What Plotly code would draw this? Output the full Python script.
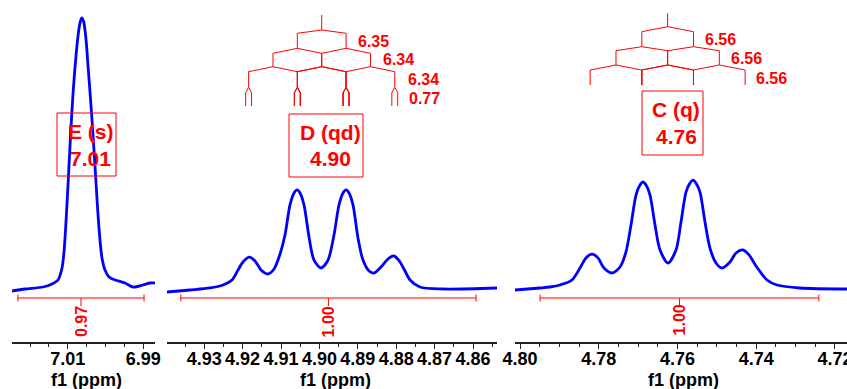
import plotly.graph_objects as go

# ---------------- data ----------------
# Panel E: chemical shift (ppm) and relative intensity
e_ppm = [7.02477, 7.02132, 7.01656, 7.01418, 7.01259, 7.01153, 7.01100, 7.01047, 7.00994,
         7.00941, 7.00888, 7.00835, 7.00782, 7.00729, 7.00676, 7.00631, 7.00584, 7.00544,
         7.00504, 7.00464, 7.00411, 7.00358, 7.00306, 7.00253, 7.00200, 7.00147, 7.00094,
         7.00014, 6.99908, 6.99750, 6.99485, 6.99273, 6.99008, 6.98823, 6.98690]
e_int = [-0.37, 0.37, 1.10, 2.21, 3.68, 8.09, 13.97, 25.0, 38.6,
         52.9, 66.2, 77.2, 86.0, 93.4, 98.2, 100.0, 98.9, 95.6,
         90.1, 82.4, 72.8, 62.5, 51.5, 39.7, 27.9, 18.4, 11.8,
         7.35, 4.78, 3.68, 2.57, 1.10, 1.84, 2.57, 2.57]

# Panel D
d_ppm = [4.93969, 4.93370, 4.92849, 4.92510, 4.92276, 4.92120, 4.91990, 4.91833, 4.91677,
         4.91521, 4.91339, 4.91182, 4.91026, 4.90896, 4.90766, 4.90661, 4.90583, 4.90505,
         4.90401, 4.90271, 4.90141, 4.89958, 4.89776, 4.89620, 4.89490, 4.89385, 4.89307,
         4.89229, 4.89125, 4.88995, 4.88865, 4.88708, 4.88578, 4.88396, 4.88214, 4.88057,
         4.87901, 4.87771, 4.87641, 4.87380, 4.86781, 4.85375]
d_int = [-0.74, 0.0, 0.74, 1.84, 3.68, 7.35, 10.3, 12.1, 10.7,
         7.35, 5.88, 7.72, 13.2, 20.2, 31.3, 35.7, 36.8, 35.7,
         31.3, 19.5, 11.0, 8.09, 11.0, 20.2, 31.3, 35.7, 36.8,
         35.7, 31.3, 19.1, 11.0, 6.99, 6.25, 8.46, 11.4, 12.5,
         10.3, 6.99, 3.68, 1.10, 0.37, 0.74]

# Panel C
c_ppm = [4.80127, 4.79492, 4.79238, 4.78984, 4.78679, 4.78476, 4.78324, 4.78171, 4.78019,
         4.77867, 4.77663, 4.77460, 4.77308, 4.77181, 4.77054, 4.76952, 4.76876, 4.76800,
         4.76698, 4.76571, 4.76444, 4.76241, 4.76038, 4.75911, 4.75784, 4.75683, 4.75606,
         4.75530, 4.75429, 4.75302, 4.75175, 4.75022, 4.74870, 4.74667, 4.74514, 4.74337,
         4.74184, 4.74006, 4.73727, 4.73473, 4.72889, 4.71695]
c_int = [0.0, 0.74, 1.10, 1.84, 3.68, 8.09, 11.8, 13.2, 11.8,
         8.09, 6.25, 8.46, 14.0, 23.9, 34.9, 38.6, 39.7, 38.6,
         34.9, 23.9, 14.7, 9.93, 14.7, 25.0, 36.0, 39.3, 40.4,
         39.3, 36.0, 25.0, 15.4, 9.93, 8.09, 10.3, 13.6, 14.7,
         12.9, 8.82, 3.68, 1.84, 0.74, 0.37]

# Multiplet annotations
mult_names = ["E (s)", "D (qd)", "C (q)"]
mult_shift_labels = ["7.01", "4.90", "4.76"]
mult_centers = [7.0063, 4.8994, 4.7625]          # ppm (tree centres)
integral_values = ["0.97", "1.00", "1.00"]
integral_from = [7.0232, 4.9361, 4.7949]          # ppm
integral_to = [6.9898, 4.8592, 4.7241]            # ppm
d_couplings = [6.35, 6.34, 6.34, 0.77]            # Hz
c_couplings = [6.56, 6.56, 6.56]                  # Hz
spectrometer_mhz = 500.0

# axis ranges / ticks
x_ranges = [(7.02477, 6.98690), (4.93969, 4.85375), (4.80127, 4.71695)]
major_dticks = [0.02, 0.01, 0.02]
major_tick0 = [6.99, 4.86, 4.72]
minor_dtick = 0.005

# ---------------- layout helpers ----------------
W, H = 847, 389
RED = "#ff0000"
BLUE = "#0000ff"
FONT = "Liberation Sans, Arial, sans-serif"


def xp(p):
    return p / W


def yp(p):
    return 1 - p / H


panel_px = [(12, 155), (167, 497), (515, 847)]
axis_px = 342
y_range = [-19.12, 106.62]

fig = go.Figure()
spectra = [(e_ppm, e_int), (d_ppm, d_int), (c_ppm, c_int)]
layout = dict(width=W, height=H, margin=dict(l=0, r=0, t=0, b=0, pad=0), autosize=False,
              paper_bgcolor="white", plot_bgcolor="white", showlegend=False)

for i, (xs, ys) in enumerate(spectra):
    n = "" if i == 0 else str(i + 1)
    fig.add_trace(go.Scatter(x=xs, y=ys, mode="lines",
                             line=dict(color=BLUE, width=2.8, shape="spline", smoothing=0.8),
                             xaxis="x" + n, yaxis="y" + n, hoverinfo="skip"))
    l, r = panel_px[i]
    layout["xaxis" + n] = dict(
        domain=[xp(l), xp(r)], range=list(x_ranges[i]), anchor="y" + n,
        showgrid=False, zeroline=False, showline=True, linecolor="#222222", linewidth=1.5,
        ticks="outside", ticklen=5, tickwidth=1.2, tickcolor="#222222",
        dtick=major_dticks[i], tick0=major_tick0[i], tickformat=".2f", tickangle=0,
        tickfont=dict(family=FONT, size=18, color="black", weight="bold"),
        ticklabelstandoff=-5, ticklabeloverflow="allow", automargin=False,
        minor=dict(dtick=minor_dtick, tick0=0, ticks="outside", ticklen=3.5,
                   tickwidth=1.1, tickcolor="#222222", showgrid=False),
    )
    layout["yaxis" + n] = dict(domain=[yp(axis_px), 1], range=y_range, visible=False,
                               anchor="x" + n, automargin=False)

fig.update_layout(**layout)

shapes = []
annotations = []
line_red = dict(color=RED, width=1)

# axis titles
title_shift = [3, 3, 2]
for i in range(3):
    n = "" if i == 0 else str(i + 1)
    annotations.append(dict(text="<b>f1 (ppm)</b>", xref="x" + n + " domain", x=0.5,
                            xshift=title_shift[i], yref="paper", y=yp(380), showarrow=False,
                            font=dict(family=FONT, size=18, color="black"),
                            xanchor="center", yanchor="middle"))

# integral brackets
br_y, cap, tick_bot = 298, 3.5, 306
lbl_y = [321, 322, 320]
for i in range(3):
    n = "" if i == 0 else str(i + 1)
    xr = "x" + n
    a, b = integral_from[i], integral_to[i]
    mid = (a + b) / 2
    shapes.append(dict(type="line", xref=xr, yref="paper", x0=a, x1=b,
                       y0=yp(br_y), y1=yp(br_y), line=line_red))
    for xx in (a, b):
        shapes.append(dict(type="line", xref=xr, yref="paper", x0=xx, x1=xx,
                           y0=yp(br_y - cap), y1=yp(br_y + cap), line=line_red))
    shapes.append(dict(type="line", xref=xr, yref="paper", x0=mid, x1=mid,
                       y0=yp(br_y), y1=yp(tick_bot), line=line_red))
    annotations.append(dict(text="<b>%s</b>" % integral_values[i], xref=xr, x=mid,
                            yref="paper", y=yp(lbl_y[i]), showarrow=False, textangle=-90,
                            font=dict(family=FONT, size=16, color=RED),
                            xanchor="center", yanchor="middle"))

# multiplet boxes
boxes = [(57, 113, 116, 176), (289, 114, 363, 177), (642, 91, 703, 155)]
text_cx = [90.5, 330, 676]
for i in range(3):
    x0, y0, x1, y1 = boxes[i]
    shapes.append(dict(type="rect", xref="paper", yref="paper", x0=xp(x0), x1=xp(x1),
                       y0=yp(y0), y1=yp(y1), line=dict(color=RED, width=1)))
    annotations.append(dict(text="<b>%s</b>" % mult_names[i], xref="paper", x=xp(text_cx[i]),
                            yref="paper", y=yp(y0 + 18), showarrow=False,
                            font=dict(family=FONT, size=21, color=RED),
                            xanchor="center", yanchor="middle"))
    annotations.append(dict(text="<b>%s</b>" % mult_shift_labels[i], xref="paper",
                            x=xp(text_cx[i]), yref="paper", y=yp(y0 + 45), showarrow=False,
                            font=dict(family=FONT, size=21, color=RED),
                            xanchor="center", yanchor="middle"))


# splitting trees
def tree(xref, center, couplings, stem, levels, label_pos):
    shapes.append(dict(type="line", xref=xref, yref="paper", x0=center, x1=center,
                       y0=yp(stem[0]), y1=yp(stem[1]), line=line_red))
    pos = [center]
    for J, (ya, yb, yc) in zip(couplings, levels):
        half = J / spectrometer_mhz / 2
        new = []
        for p in pos:
            for c in (p + half, p - half):
                shapes.append(dict(type="line", xref=xref, yref="paper", x0=p, x1=c,
                                   y0=yp(ya), y1=yp(yb), line=line_red))
                shapes.append(dict(type="line", xref=xref, yref="paper", x0=c, x1=c,
                                   y0=yp(yb), y1=yp(yc), line=line_red))
                new.append(c)
        pos = new
    for J, (lx, ly) in zip(couplings, label_pos):
        annotations.append(dict(text="<b>%.2f</b>" % J, xref="paper", x=xp(lx),
                                yref="paper", y=yp(ly), showarrow=False,
                                font=dict(family=FONT, size=16, color=RED),
                                xanchor="left", yanchor="middle"))


tree("x2", mult_centers[1], d_couplings, (15, 30),
     [(30, 33.3, 48.3), (48.3, 53.3, 66.7), (66.7, 71.7, 87.3), (87.3, 92.7, 106)],
     [(356, 41), (381, 60), (406, 79.5), (407, 98.5)])
tree("x3", mult_centers[2], c_couplings, (13.3, 26.7),
     [(26.7, 31.7, 46.7), (46.7, 50.7, 65), (65, 70, 85)],
     [(703, 39), (729, 58.7), (754, 78)])

fig.update_layout(shapes=shapes, annotations=annotations)

# page without body margin / scrollbars so the 847x389 figure fills the window exactly
page_fix = ("document.documentElement.style.overflow='hidden';"
            "document.body.style.margin='0';document.body.style.padding='0';"
            "document.body.style.overflow='hidden';")
fig.write_html("out.html", post_script=page_fix,
               config={"responsive": False, "displayModeBar": False})
